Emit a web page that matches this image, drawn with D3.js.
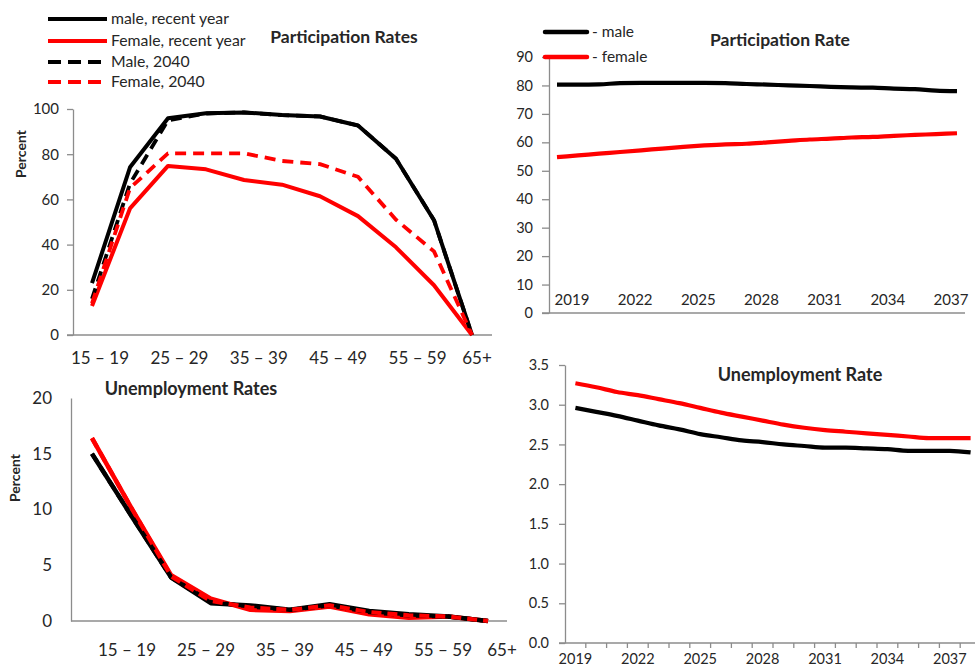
<!DOCTYPE html>
<html><head><meta charset="utf-8">
<script src="https://cdn.jsdelivr.net/npm/d3@7"></script>
<style>
html,body{margin:0;padding:0;background:#fff;}
svg{display:block;font-family:Lato,"Liberation Sans",sans-serif;}
</style></head><body>
<svg id="c" width="975" height="669"></svg>
<script>
// ---------- DATA ----------
const ages = ["15 – 19","20 – 24","25 – 29","30 – 34","35 – 39","40 – 44","45 – 49","50 – 54","55 – 59","60 – 64","65+"];
const ageLabels = ["15 – 19","25 – 29","35 – 39","45 – 49","55 – 59","65+"];

const partTicks = [0,20,40,60,80,100];
const partMaleRecent   = [22.9, 74.2, 95.9, 98.1, 98.5, 97.3, 96.7, 92.7, 78.0, 50.8, 0];
const partFemaleRecent = [12.8, 56.0, 74.8, 73.3, 68.6, 66.5, 61.4, 52.6, 38.8, 22.0, 0];
const partMale2040     = [16.0, 67.0, 95.0, 98.0, 98.5, 97.3, 96.7, 92.7, 78.0, 50.8, 0];
const partFemale2040   = [14.0, 65.0, 80.4, 80.4, 80.4, 77.0, 75.6, 70.0, 51.0, 37.0, 0];

const unempTicks = [0,5,10,15,20];
const unempMaleRecent   = [15.0, 9.4, 3.9, 1.6, 1.4, 1.0, 1.5, 0.9, 0.6, 0.4, 0];
const unempFemaleRecent = [16.4, 10.1, 4.1, 2.0, 1.0, 0.9, 1.3, 0.6, 0.3, 0.4, 0];
const unempMale2040     = [15.0, 9.4, 3.9, 1.7, 1.3, 1.0, 1.4, 0.8, 0.5, 0.4, 0];
const unempFemale2040   = [16.4, 10.1, 4.0, 1.8, 1.2, 1.0, 1.4, 0.8, 0.5, 0.4, 0];

const years = [2019,2020,2021,2022,2023,2024,2025,2026,2027,2028,2029,2030,2031,2032,2033,2034,2035,2036,2037,2038];
const yearLabels = [2019,2022,2025,2028,2031,2034,2037];

const prTicks = [0,10,20,30,40,50,60,70,80,90];
const prMale   = [80.3,80.3,80.4,80.8,80.9,80.9,80.9,80.9,80.8,80.5,80.3,80.0,79.8,79.5,79.3,79.2,78.9,78.7,78.2,78.0];
const prFemale = [54.8,55.4,56.0,56.6,57.2,57.8,58.4,58.9,59.3,59.5,60.0,60.5,61.0,61.3,61.7,61.9,62.3,62.6,62.9,63.2];

const urTicks = [0,0.5,1.0,1.5,2.0,2.5,3.0,3.5];
const urMale   = [2.96,2.91,2.86,2.80,2.74,2.69,2.63,2.59,2.55,2.53,2.50,2.48,2.46,2.46,2.45,2.44,2.42,2.42,2.42,2.40];
const urFemale = [3.27,3.22,3.16,3.12,3.07,3.02,2.96,2.90,2.85,2.80,2.75,2.71,2.68,2.66,2.64,2.62,2.60,2.58,2.58,2.58];

const legendLeft = ["male, recent year","Female, recent year","Male, 2040","Female, 2040"];
const legendRight = ["- male","- female"];

// ---------- STYLE ----------
const AX = "#8c8c8c", TXT = "#262626", RED = "#ff0000", BLK = "#000000";
const svg = d3.select("#c");

function styleAxis(g, fs){
  g.select(".domain").attr("stroke", AX).attr("stroke-width", 1.3);
  g.selectAll(".tick line").attr("stroke", AX).attr("stroke-width", 1.3);
  g.selectAll(".tick text").attr("fill", TXT).attr("font-size", fs).attr("font-family","Lato");
}
function drawLine(x, y, cats, vals, color, dash, w, curve){
  const line = d3.line().x((d,i)=>x(cats[i])).y(d=>y(d)).curve(curve||d3.curveLinear);
  svg.append("path").datum(vals).attr("d", line).attr("fill","none")
    .attr("stroke", color).attr("stroke-width", w).attr("stroke-linejoin","round")
    .attr("stroke-dasharray", dash || null);
}
function title(txt, x, y, fs){
  svg.append("text").attr("x",x).attr("y",y).attr("text-anchor","middle")
    .attr("font-weight","bold").attr("font-size",fs).attr("fill",TXT).text(txt);
}
function ylab(txt, x, y, fs){
  svg.append("text").attr("transform",`translate(${x},${y}) rotate(-90)`).attr("text-anchor","middle")
    .attr("font-weight","bold").attr("font-size",fs).attr("fill",TXT).text(txt);
}

// ---------- TOP LEFT: Participation Rates ----------
{
  const x = d3.scalePoint().domain(ages).range([92, 472]);
  const y = d3.scaleLinear().domain([0,100]).range([335,109]);
  const gy = svg.append("g").attr("transform","translate(73,0)")
    .call(d3.axisLeft(y).tickValues(partTicks).tickSize(6).tickSizeOuter(0).tickPadding(8));
  styleAxis(gy, 15);
  svg.append("line").attr("x1",67).attr("x2",492).attr("y1",y(0)).attr("y2",y(0)).attr("stroke",AX).attr("stroke-width",1.3);
  const lab = d3.scalePoint().domain(ageLabels).range([100, 497]);
  svg.append("g").selectAll("text").data(ageLabels).join("text")
    .attr("x", (d,i)=> i===ageLabels.length-1 ? 477 : lab(d)).attr("y", 364)
    .attr("text-anchor","middle").attr("font-size",17).attr("fill",TXT).text(d=>d);
  drawLine(x,y,ages,partMaleRecent,BLK,null,4);
  drawLine(x,y,ages,partFemaleRecent,RED,null,4);
  drawLine(x,y,ages,partMale2040,BLK,"11,7",3.8);
  drawLine(x,y,ages,partFemale2040,RED,"11,7",3.8);
  ylab("Percent", 26, 154, 14);
  title("Participation Rates", 344, 43, 17.5);
  // legend
  const ly = [19, 41, 62, 82];
  const styles = [[BLK,null],[RED,null],[BLK,"13,7"],[RED,"13,7"]];
  legendLeft.forEach((t,i)=>{
    svg.append("line").attr("x1",48).attr("x2",107).attr("y1",ly[i]).attr("y2",ly[i])
      .attr("stroke",styles[i][0]).attr("stroke-width",4).attr("stroke-dasharray",styles[i][1]);
    svg.append("text").attr("x",111).attr("y",ly[i]+5).attr("font-size",15.8).attr("fill",TXT).text(t);
  });
}

// ---------- TOP RIGHT: Participation Rate ----------
{
  const x = d3.scalePoint().domain(years).range([557, 957]);
  const y = d3.scaleLinear().domain([0,90]).range([313,57]);
  const gy = svg.append("g").attr("transform","translate(549,0)")
    .call(d3.axisLeft(y).tickValues(prTicks).tickSize(7).tickSizeOuter(0).tickPadding(9));
  styleAxis(gy, 14.5);
  svg.append("line").attr("x1",542).attr("x2",965).attr("y1",y(0)).attr("y2",y(0)).attr("stroke",AX).attr("stroke-width",1.3);
  svg.append("g").selectAll("text").data(yearLabels).join("text")
    .attr("x", d=>x(d)+15).attr("y", 305).attr("text-anchor","middle")
    .attr("font-size",15).attr("fill",TXT).text(d=>d);
  drawLine(x,y,years,prMale,BLK,null,4.2,d3.curveMonotoneX);
  drawLine(x,y,years,prFemale,RED,null,4.2,d3.curveMonotoneX);
  title("Participation Rate", 780, 46, 17.5);
  const ly = [32, 57], cols = [BLK, RED];
  legendRight.forEach((t,i)=>{
    svg.append("line").attr("x1",545).attr("x2",587).attr("y1",ly[i]).attr("y2",ly[i])
      .attr("stroke",cols[i]).attr("stroke-width",4.5).attr("stroke-linecap","round");
    svg.append("text").attr("x",592).attr("y",ly[i]+5).attr("font-size",15.5).attr("fill",TXT).text(t);
  });
}

// ---------- BOTTOM LEFT: Unemployment Rates ----------
{
  const x = d3.scalePoint().domain(ages).range([92, 488]);
  const y = d3.scaleLinear().domain([0,20]).range([621,398]);
  const gy = svg.append("g").attr("transform","translate(71,0)")
    .call(d3.axisLeft(y).tickValues(unempTicks).tickSize(0).tickSizeOuter(0).tickPadding(19));
  styleAxis(gy, 17);
  svg.append("line").attr("x1",71).attr("x2",507).attr("y1",y(0)).attr("y2",y(0)).attr("stroke",AX).attr("stroke-width",1.3);
  const lab = d3.scalePoint().domain(ageLabels).range([127, 522]);
  svg.append("g").selectAll("text").data(ageLabels).join("text")
    .attr("x", (d,i)=> i===ageLabels.length-1 ? 502 : lab(d)).attr("y", 656)
    .attr("text-anchor","middle").attr("font-size",17).attr("fill",TXT).text(d=>d);
  drawLine(x,y,ages,unempFemaleRecent,RED,null,4.5);
  drawLine(x,y,ages,unempMaleRecent,BLK,null,4.5);
  drawLine(x,y,ages,unempMale2040,BLK,"10,6",4.2);
  drawLine(x,y,ages,unempFemale2040,RED,"10,6",4.2);
  ylab("Percent", 20, 478, 14);
  title("Unemployment Rates", 191, 395, 18);
}

// ---------- BOTTOM RIGHT: Unemployment Rate ----------
{
  const x = d3.scaleBand().domain(years).range([565, 981]);
  const bw = x.bandwidth();
  const xc = d => x(d) + bw/2;
  const y = d3.scaleLinear().domain([0,3.5]).range([643,365]);
  const gy = svg.append("g").attr("transform","translate(565,0)")
    .call(d3.axisLeft(y).tickValues(urTicks).tickFormat(d3.format(".1f")).tickSize(6).tickSizeOuter(0).tickPadding(10));
  styleAxis(gy, 14.5);
  svg.append("line").attr("x1",559).attr("x2",981).attr("y1",y(0)).attr("y2",y(0)).attr("stroke",AX).attr("stroke-width",1.3);
  svg.append("g").selectAll("line").data(years.slice(1)).join("line")
    .attr("x1",d=>x(d)).attr("x2",d=>x(d)).attr("y1",y(0)).attr("y2",y(0)+5)
    .attr("stroke",AX).attr("stroke-width",1.3);
  svg.append("g").selectAll("text").data(yearLabels).join("text")
    .attr("x", d=>xc(d)).attr("y", 664).attr("text-anchor","middle")
    .attr("font-size",14.5).attr("fill",TXT).text(d=>d);
  const line = (vals,color)=>svg.append("path").datum(vals)
    .attr("d", d3.line().x((d,i)=>xc(years[i])).y(d=>y(d)).curve(d3.curveMonotoneX))
    .attr("fill","none").attr("stroke",color).attr("stroke-width",4.2);
  line(urMale, BLK);
  line(urFemale, RED);
  title("Unemployment Rate", 800, 381, 18);
}
</script>
</body></html>
